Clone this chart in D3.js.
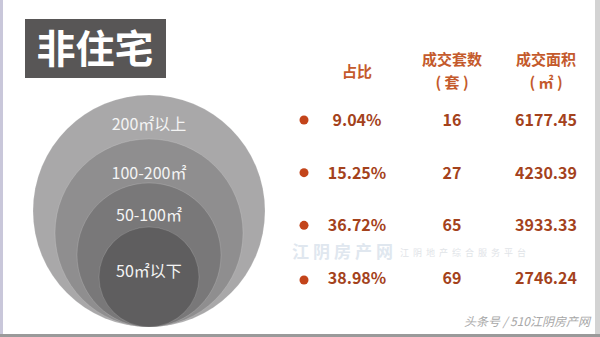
<!DOCTYPE html>
<html><head><meta charset="utf-8">
<script src="https://cdn.jsdelivr.net/npm/d3@7"></script>
<style>html,body{margin:0;padding:0;background:#fff;overflow:hidden}</style>
</head><body>
<svg id="c" width="600" height="337"></svg>
<script>
const title = "非住宅";
const categories = ["200㎡以上", "100-200㎡", "50-100㎡", "50㎡以下"];
const shares = ["9.04%", "15.25%", "36.72%", "38.98%"];
const counts = [16, 27, 65, 69];
const areas = [6177.45, 4230.39, 3933.33, 2746.24];
const headers = [["占比"], ["成交套数", "( 套 )"], ["成交面积", "( ㎡ )"]];

const svg = d3.select("#c");
const font = "'Noto Sans CJK SC','Microsoft YaHei',sans-serif";

// frame
svg.append("rect").attr("x",0).attr("y",0).attr("width",600).attr("height",337).attr("fill","#fff");
svg.append("rect").attr("x",0).attr("y",0).attr("width",3).attr("height",337).attr("fill","#c9c7da");
svg.append("rect").attr("x",595).attr("y",0).attr("width",5).attr("height",337).attr("fill","#d3d3d3");
svg.append("rect").attr("x",0).attr("y",334).attr("width",600).attr("height",3).attr("fill","#9a9a9a");

// title box
svg.append("rect").attr("x",25).attr("y",19).attr("width",141).attr("height",59).attr("fill","#585656");
svg.append("text").attr("x",95).attr("y",63).attr("text-anchor","middle")
  .attr("font-family",font).attr("font-weight","bold").attr("font-size",39)
  .attr("fill","#fff").text(title);

// nested circles
const idx = d3.range(categories.length);
const rScale = d3.scaleLinear().domain([0, categories.length-1]).range([116, 50]);
const fills = ["#a9a8a9", "#8f8e8f", "#797879", "#5f5e5f"];
const cx = 149, bottom = 327;
svg.append("g").selectAll("circle").data(idx).join("circle")
  .attr("cx", cx).attr("cy", i => bottom - rScale(i)).attr("r", i => rScale(i))
  .attr("fill", i => fills[i]).attr("stroke", "rgba(255,255,255,0.15)").attr("stroke-width", 1);

const labelY = [123, 172, 214, 270];
svg.append("g").selectAll("text").data(idx).join("text")
  .attr("x", cx).attr("y", i => labelY[i]).attr("dominant-baseline","central")
  .attr("text-anchor","middle").attr("font-family",font).attr("font-size",16)
  .attr("fill","#f4f4f4").text(i => categories[i]);

// watermark (faint, placed between table rows)
svg.append("text").attr("x",292).attr("y",250).attr("dominant-baseline","central")
  .attr("font-family",font).attr("font-size",17)
  .attr("font-weight","bold").attr("fill","#e0e7ef").attr("letter-spacing",4).text("江阴房产网");
svg.append("text").attr("x",400).attr("y",252).attr("dominant-baseline","central")
  .attr("font-family",font).attr("font-size",9)
  .attr("letter-spacing",4).attr("fill","#e1e4e8").text("江阴地产综合服务平台");

// table
const colX = [357, 452, 546];
const y = d3.scalePoint().domain(categories).range([119, 277]);
const hdrColor = "#c45a2c", numColor = "#a4421c";
headers.forEach((h, j) => {
  const ys = h.length === 1 ? [70] : [58, 81];
  h.forEach((s, k) => {
    svg.append("text").attr("x", colX[j]).attr("y", ys[k]).attr("dominant-baseline","central")
      .attr("text-anchor","middle").attr("font-family",font).attr("font-weight","bold")
      .attr("font-size",15).attr("fill",hdrColor).text(s);
  });
});

const rows = svg.append("g").selectAll("g").data(categories).join("g")
  .attr("transform", d => `translate(0,${y(d)})`);
rows.append("circle").attr("cx",304).attr("cy",(d,i)=> i===3?3:1).attr("r",4.5).attr("fill","#c3441a");
const cols = [shares, counts, areas.map(v => d3.format(".2f")(v))];
cols.forEach((arr, j) => {
  rows.append("text").attr("x", colX[j]).attr("y", 0).attr("dominant-baseline","central")
    .attr("text-anchor","middle").attr("font-family",font).attr("font-weight","bold")
    .attr("font-size",16).attr("fill",numColor).text((d,i) => arr[i]);
});

// footer
svg.append("text").attr("x",590).attr("y",326).attr("text-anchor","end")
  .attr("font-family",font).attr("font-size",12).attr("font-style","italic")
  .attr("fill","#a8a8a8").text("头条号 / 510江阴房产网");
</script>
</body></html>
